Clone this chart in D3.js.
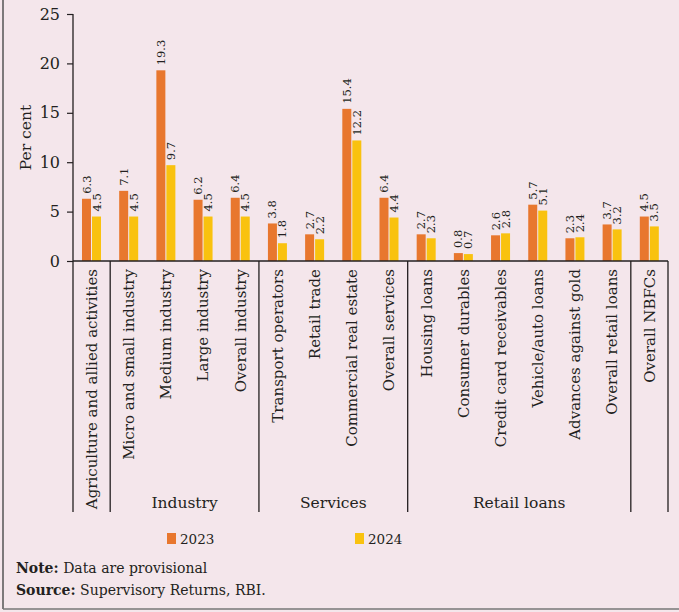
<!DOCTYPE html>
<html>
<head>
<meta charset="utf-8">
<script src="https://cdn.jsdelivr.net/npm/d3@7"></script>
<style>
  html, body { margin: 0; padding: 0; background: #f4e6eb; }
  svg { display: block; }
  text { font-family: "DejaVu Serif", serif; fill: #231f20; }
</style>
</head>
<body>
<svg id="chart" width="679" height="612"></svg>
<script>
// Gross NPA ratios of NBFCs by sector, per cent
const categories = [
  "Agriculture and allied activities",
  "Micro and small industry", "Medium industry", "Large industry", "Overall industry",
  "Transport operators", "Retail trade", "Commercial real estate", "Overall services",
  "Housing loans", "Consumer durables", "Credit card receivables", "Vehicle/auto loans",
  "Advances against gold", "Overall retail loans",
  "Overall NBFCs"
];
const series = ["2023", "2024"];
const values2023 = [6.3, 7.1, 19.3, 6.2, 6.4, 3.8, 2.7, 15.4, 6.4, 2.7, 0.8, 2.6, 5.7, 2.3, 3.7, 4.5];
const values2024 = [4.5, 4.5, 9.7, 4.5, 4.5, 1.8, 2.2, 12.2, 4.4, 2.3, 0.7, 2.8, 5.1, 2.4, 3.2, 3.5];
const groups = [
  { name: "", from: 0, to: 0 },
  { name: "Industry", from: 1, to: 4 },
  { name: "Services", from: 5, to: 8 },
  { name: "Retail loans", from: 9, to: 14 },
  { name: "", from: 15, to: 15 }
];
const yTicks = [0, 5, 10, 15, 20, 25];
const colors = { "2023": "#e8772e", "2024": "#f9c20f" };

const svg = d3.select("#chart");

const x = d3.scaleBand().domain(categories).range([73, 668]).padding(0);
const xSub = d3.scaleBand().domain(series).range([-9.6, 9.4]).paddingInner(0.1);
const y = d3.scaleLinear().domain([0, 25]).range([261, 14]);

// frame
svg.append("line").attr("x1", 3).attr("x2", 3).attr("y1", 0).attr("y2", 609)
  .attr("stroke", "#555").attr("stroke-width", 1.5);
svg.append("line").attr("x1", 3).attr("x2", 679).attr("y1", 609).attr("y2", 609)
  .attr("stroke", "#777").attr("stroke-width", 1.5);

// y axis
const yAxis = svg.append("g").attr("transform", "translate(73,0)")
  .call(d3.axisLeft(y).tickValues(yTicks).tickSize(6).tickPadding(7).tickFormat(d3.format("d")));
yAxis.select(".domain").attr("stroke", "#231f20").attr("stroke-width", 1.3).attr("d", `M0,${y(25)}V${y(0)}`);
yAxis.selectAll(".tick line").attr("stroke", "#231f20").attr("stroke-width", 1.2);
yAxis.selectAll(".tick text").style("font-family", "DejaVu Serif, serif").style("font-size", "16px").attr("fill", "#231f20");

svg.append("text")
  .attr("transform", `translate(26,${(y(0) + y(25)) / 2}) rotate(-90)`)
  .attr("text-anchor", "middle").attr("dy", "0.35em")
  .style("font-size", "15.5px").text("Per cent");

// bars
const rows = categories.map((c, i) => ({ cat: c, v: { "2023": values2023[i], "2024": values2024[i] } }));
const bandG = svg.append("g").selectAll("g").data(rows).join("g")
  .attr("transform", d => `translate(${x(d.cat) + x.bandwidth() / 2},0)`);

bandG.selectAll("rect").data(d => series.map(s => ({ s, v: d.v[s] }))).join("rect")
  .attr("x", d => xSub(d.s))
  .attr("width", xSub.bandwidth())
  .attr("y", d => y(d.v))
  .attr("height", d => y(0) - y(d.v))
  .attr("fill", d => colors[d.s]);

bandG.selectAll("text.val").data(d => series.map(s => ({ s, v: d.v[s] }))).join("text")
  .attr("class", "val")
  .attr("transform", d => `translate(${xSub(d.s) + xSub.bandwidth() / 2},${y(d.v) - 5}) rotate(-90)`)
  .attr("dy", "0.35em")
  .style("font-size", "11.5px").attr("fill", "#333")
  .text(d => d3.format(".1f")(d.v));

// x axis line
svg.append("line").attr("x1", 73).attr("x2", 668).attr("y1", y(0)).attr("y2", y(0))
  .attr("stroke", "#231f20").attr("stroke-width", 1.5);

// category labels
svg.append("g").selectAll("text").data(categories).join("text")
  .attr("transform", d => `translate(${x(d) + x.bandwidth() / 2},269) rotate(-90)`)
  .attr("text-anchor", "end").attr("dy", "0.35em")
  .style("font-size", "15px")
  .text(d => d);

// group separators
const sepX = [73, ...groups.map(g => x(categories[g.to]) + x.bandwidth())];
svg.append("g").selectAll("line").data(sepX).join("line")
  .attr("x1", d => d).attr("x2", d => d)
  .attr("y1", y(0)).attr("y2", 512)
  .attr("stroke", "#231f20").attr("stroke-width", 1.3);

// group labels
svg.append("g").selectAll("text").data(groups.filter(g => g.name)).join("text")
  .attr("x", g => (x(categories[g.from]) + x(categories[g.to]) + x.bandwidth()) / 2)
  .attr("y", 508)
  .attr("text-anchor", "middle")
  .style("font-size", "15.5px")
  .text(g => g.name);

// legend
const legendX = { "2023": 167, "2024": 355 };
const leg = svg.append("g").selectAll("g").data(series).join("g")
  .attr("transform", s => `translate(${legendX[s]},533)`);
leg.append("rect").attr("width", 9).attr("height", 11).attr("fill", s => colors[s]);
leg.append("text").attr("x", 13).attr("y", 11).style("font-size", "13.5px").text(s => s);

// notes
const note = svg.append("text").attr("x", 16).attr("y", 573).style("font-size", "14px");
note.append("tspan").style("font-weight", "bold").text("Note:");
note.append("tspan").text(" Data are provisional");
const src = svg.append("text").attr("x", 16).attr("y", 595).style("font-size", "14px");
src.append("tspan").style("font-weight", "bold").text("Source:");
src.append("tspan").text(" Supervisory Returns, RBI.");
</script>
</body>
</html>
